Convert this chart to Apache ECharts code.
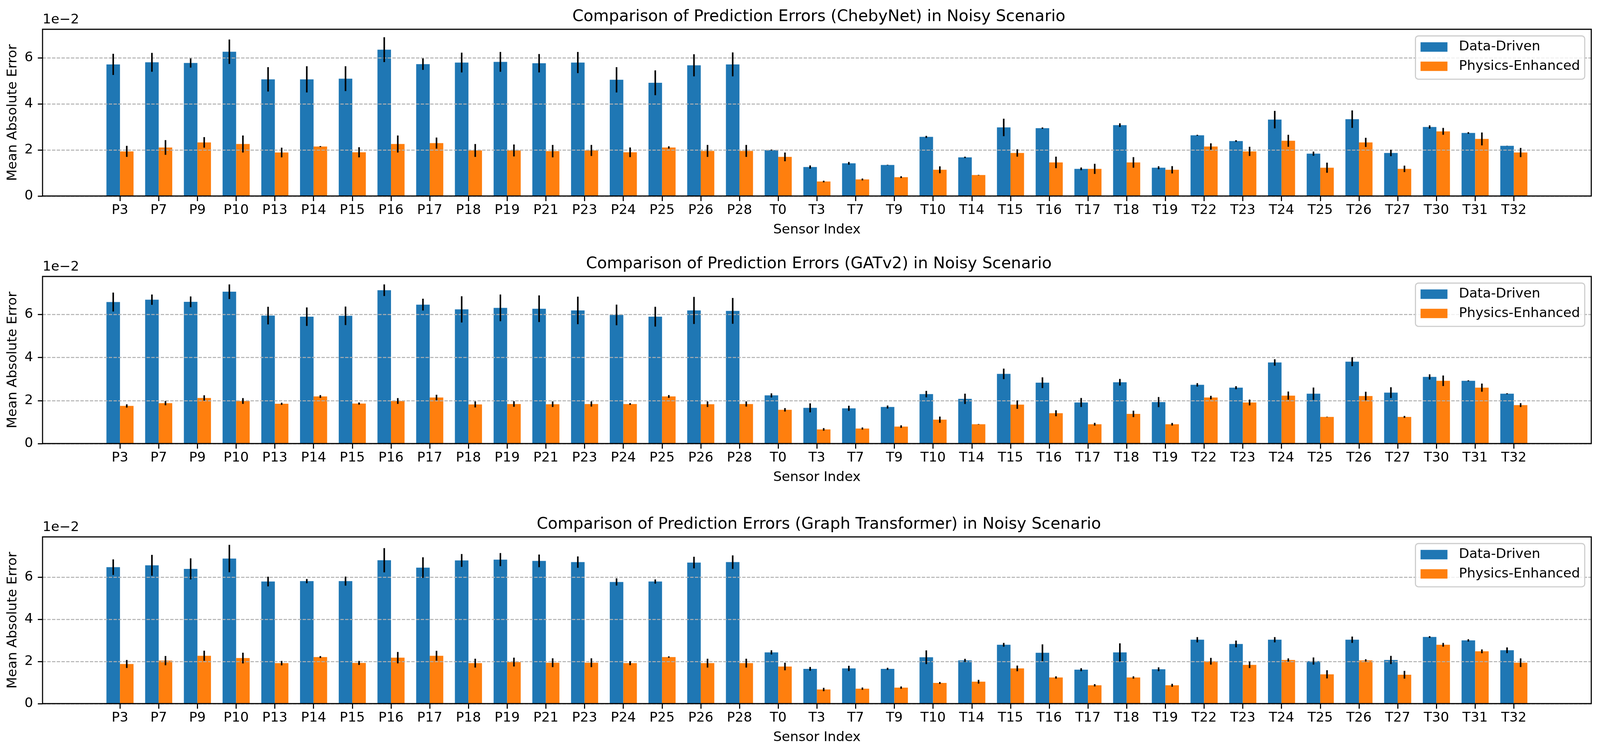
<!DOCTYPE html>
<html>
<head>
<meta charset="utf-8">
<script src="https://cdn.jsdelivr.net/npm/echarts@6/dist/echarts.min.js"></script>
<style>
html,body{margin:0;padding:0;background:#ffffff;overflow:hidden;}
#chart{position:absolute;left:0;top:0;width:100vw;height:100vh;}
</style>
</head>
<body>
<div id="chart"></div>
<script>
// ---------------- DATA (values are Mean Absolute Error in units of 1e-2) ----------------
const sensors = ['P3','P7','P9','P10','P13','P14','P15','P16','P17','P18','P19','P21','P23','P24','P25','P26','P28',
  'T0','T3','T7','T9','T10','T14','T15','T16','T17','T18','T19','T22','T23','T24','T25','T26','T27','T30','T31','T32'];
const seriesNames = ['Data-Driven', 'Physics-Enhanced'];
const modelNames = ['ChebyNet', 'GATv2', 'Graph Transformer'];
const yTicks = [0, 2, 4, 6];
const yOffsetText = '1e\u22122';

// ChebyNet
const chebyDataMean = [5.72,5.81,5.78,6.27,5.07,5.07,5.10,6.36,5.73,5.80,5.83,5.77,5.80,5.05,4.92,5.68,5.72,
  2.00,1.26,1.42,1.35,2.57,1.68,2.98,2.95,1.18,3.08,1.23,2.64,2.39,3.32,1.84,3.34,1.87,3.00,2.74,2.18];
const chebyDataErr = [0.46,0.41,0.20,0.53,0.53,0.57,0.54,0.54,0.25,0.43,0.43,0.40,0.46,0.55,0.54,0.48,0.52,
  0.02,0.07,0.06,0.01,0.045,0.03,0.38,0.03,0.06,0.08,0.065,0.02,0.035,0.38,0.09,0.38,0.14,0.07,0.035,0.005];
const chebyPhysMean = [1.94,2.11,2.33,2.26,1.89,2.15,1.90,2.26,2.30,1.98,1.98,1.95,1.98,1.90,2.11,1.96,1.96,
  1.70,0.63,0.72,0.82,1.14,0.91,1.87,1.46,1.18,1.46,1.14,2.15,1.94,2.40,1.23,2.33,1.18,2.81,2.48,1.89];
const chebyPhysErr = [0.24,0.32,0.23,0.37,0.21,0.02,0.22,0.37,0.24,0.28,0.26,0.27,0.24,0.21,0.05,0.26,0.26,
  0.19,0.035,0.04,0.04,0.15,0.01,0.16,0.25,0.22,0.23,0.16,0.14,0.20,0.26,0.22,0.20,0.14,0.15,0.28,0.20];

// GATv2
const gatDataMean = [6.58,6.69,6.59,7.06,5.95,5.90,5.94,7.13,6.46,6.24,6.31,6.27,6.19,5.98,5.90,6.19,6.17,
  2.24,1.66,1.64,1.70,2.30,2.08,3.24,2.83,1.91,2.85,1.93,2.73,2.60,3.77,2.32,3.81,2.37,3.10,2.92,2.32];
const gatDataErr = [0.44,0.24,0.25,0.34,0.41,0.43,0.43,0.27,0.275,0.61,0.62,0.62,0.64,0.48,0.46,0.63,0.60,
  0.095,0.21,0.12,0.07,0.15,0.24,0.245,0.25,0.21,0.155,0.235,0.08,0.07,0.15,0.285,0.21,0.25,0.12,0.02,0.02];
const gatPhysMean = [1.75,1.88,2.12,1.98,1.85,2.19,1.86,1.98,2.14,1.82,1.84,1.83,1.84,1.84,2.19,1.83,1.84,
  1.57,0.66,0.70,0.79,1.11,0.90,1.81,1.41,0.90,1.38,0.90,2.14,1.91,2.23,1.24,2.21,1.24,2.92,2.60,1.79];
const gatPhysErr = [0.075,0.10,0.125,0.135,0.05,0.065,0.05,0.135,0.13,0.14,0.13,0.13,0.12,0.04,0.065,0.13,0.12,
  0.08,0.06,0.05,0.06,0.145,0.01,0.195,0.14,0.065,0.15,0.06,0.08,0.135,0.19,0.01,0.20,0.045,0.245,0.19,0.09];

// Graph Transformer
const gtDataMean = [6.47,6.56,6.39,6.88,5.79,5.81,5.81,6.80,6.45,6.79,6.83,6.77,6.71,5.77,5.79,6.69,6.71,
  2.43,1.65,1.67,1.65,2.20,2.05,2.79,2.41,1.61,2.43,1.63,3.03,2.83,3.03,2.02,3.03,2.07,3.16,3.00,2.53];
const gtDataErr = [0.37,0.495,0.50,0.65,0.23,0.10,0.215,0.575,0.49,0.305,0.31,0.30,0.27,0.17,0.10,0.275,0.32,
  0.10,0.09,0.125,0.05,0.325,0.075,0.09,0.40,0.07,0.43,0.09,0.125,0.16,0.125,0.17,0.15,0.195,0.04,0.055,0.135];
const gtPhysMean = [1.88,2.04,2.27,2.16,1.92,2.21,1.93,2.18,2.27,1.92,1.97,1.94,1.94,1.92,2.21,1.92,1.92,
  1.76,0.67,0.71,0.76,0.98,1.04,1.67,1.24,0.87,1.24,0.87,2.01,1.84,2.07,1.39,2.05,1.37,2.79,2.48,1.94];
const gtPhysErr = [0.19,0.22,0.24,0.255,0.105,0.045,0.095,0.27,0.235,0.21,0.21,0.21,0.21,0.095,0.03,0.21,0.21,
  0.18,0.08,0.055,0.055,0.045,0.09,0.135,0.055,0.055,0.055,0.07,0.16,0.155,0.075,0.195,0.055,0.185,0.09,0.09,0.205];

// ---------------- LAYOUT / STYLE (designed for 4400 x 1931, scaled to the viewport) ----------------
const el = document.getElementById('chart');
const VW = el.clientWidth || window.innerWidth || 4400;
const VH = el.clientHeight || window.innerHeight || 1931;
const sx = VW / 4400, sy = VH / 1931, s = Math.min(sx, sy);
const X = v => v * sx, Y = v => v * sy, S = v => v * s;

const FONT = '"DejaVu Sans", "Liberation Sans", sans-serif';
const COLORS = ['#1f77b4', '#ff7f0e'];
const BAR_W = 0.35;
const plotLeft = 117, plotRightGap = 24;
const plotTops = [75, 708, 1375];
const plotHeights = [427, 428, 427];
const centerX = plotLeft + (4400 - plotLeft - plotRightGap) / 2;

const panels = [
  {model: modelNames[0], mean: [chebyDataMean, chebyPhysMean], err: [chebyDataErr, chebyPhysErr]},
  {model: modelNames[1], mean: [gatDataMean, gatPhysMean], err: [gatDataErr, gatPhysErr]},
  {model: modelNames[2], mean: [gtDataMean, gtPhysMean], err: [gtDataErr, gtPhysErr]}
];

const sensorIdx = sensors.map((n, i) => i);

function barRender(side) {
  return function (params, api) {
    const x = api.value(0), y = api.value(1);
    const a = api.coord([x + (side < 0 ? -BAR_W : 0), 0]);
    const b = api.coord([x + (side < 0 ? 0 : BAR_W), y]);
    return {
      type: 'rect',
      shape: {x: a[0], y: b[1], width: b[0] - a[0], height: a[1] - b[1]},
      style: {fill: api.visual('color')}
    };
  };
}
function errRender(side) {
  return function (params, api) {
    const x = api.value(0) + side * BAR_W / 2, y = api.value(1), e = api.value(2);
    const t = api.coord([x, y + e]), b = api.coord([x, y - e]);
    return {
      type: 'line',
      shape: {x1: t[0], y1: t[1], x2: b[0], y2: b[1]},
      style: {stroke: '#000000', lineWidth: S(4.3), lineCap: 'butt'}
    };
  };
}

const grids = [], xAxes = [], yAxes = [], series = [], legends = [], titles = [], graphics = [];

panels.forEach((p, i) => {
  const yMax = Math.max(
    ...p.mean[0].map((m, k) => m + p.err[0][k]),
    ...p.mean[1].map((m, k) => m + p.err[1][k])
  ) * 1.05;

  grids.push({
    left: X(plotLeft), right: X(plotRightGap), top: Y(plotTops[i]), height: Y(plotHeights[i]),
    show: true, borderColor: '#000000', borderWidth: S(3), backgroundColor: 'transparent',
    z: 5, containLabel: false, outerBoundsMode: 'none'
  });

  xAxes.push({
    gridIndex: i, type: 'value', min: -2, max: 38, z: 3,
    name: 'Sensor Index', nameLocation: 'middle', nameGap: Y(70),
    nameTextStyle: {fontSize: S(37), color: '#000', fontFamily: FONT},
    axisLine: {show: false, onZero: false},
    splitLine: {show: false},
    axisTick: {show: true, length: Y(13), lineStyle: {color: '#000', width: S(3)}, customValues: sensorIdx},
    axisLabel: {show: true, customValues: sensorIdx, formatter: v => sensors[v] !== undefined ? sensors[v] : '',
      fontSize: S(37), color: '#000', margin: Y(20), fontFamily: FONT}
  });

  yAxes.push({
    gridIndex: i, type: 'value', min: 0, max: yMax, interval: 2, z: 3,
    name: 'Mean Absolute Error', nameLocation: 'middle', nameGap: X(63), nameRotate: 90,
    nameTextStyle: {fontSize: S(37), color: '#000', fontFamily: FONT},
    axisLine: {show: false, onZero: false},
    axisTick: {show: true, length: X(13), lineStyle: {color: '#000', width: S(3)}, customValues: yTicks},
    axisLabel: {show: true, customValues: yTicks, fontSize: S(37), color: '#000', margin: X(26), fontFamily: FONT},
    splitLine: {show: true, lineStyle: {color: '#b0b0b0', width: S(2.7), type: [S(9.3), S(3.7)]}}
  });

  [0, 1].forEach(k => {
    const side = k === 0 ? -1 : 1;
    const data = sensors.map((name, j) => [j, p.mean[k][j], p.err[k][j]]);
    series.push({
      type: 'custom', name: seriesNames[k], xAxisIndex: i, yAxisIndex: i,
      data: data, encode: {x: 0, y: 1}, renderItem: barRender(side),
      itemStyle: {color: COLORS[k]}, z: 2, silent: true, clip: false
    });
    series.push({
      type: 'custom', name: seriesNames[k] + ' error', xAxisIndex: i, yAxisIndex: i,
      data: data, encode: {x: 0, y: 1}, renderItem: errRender(side),
      itemStyle: {color: '#000'}, z: 4, silent: true, clip: false
    });
  });

  legends.push({
    data: seriesNames.map((n, k) => ({name: n, itemStyle: {color: COLORS[k]}})),
    orient: 'vertical', align: 'left', right: X(42), top: Y(plotTops[i] + 17),
    icon: 'rect', itemWidth: S(74), itemHeight: S(26), itemGap: S(16),
    padding: [S(12), S(13), S(17), S(14)],
    backgroundColor: 'rgba(255,255,255,0.8)', borderColor: '#cccccc', borderWidth: S(3), borderRadius: S(8),
    textStyle: {fontSize: S(37), color: '#000', fontFamily: FONT, lineHeight: S(37), padding: [0, 0, 0, S(26)]},
    selectedMode: false, z: 6
  });

  titles.push({
    text: 'Comparison of Prediction Errors (' + p.model + ') in Noisy Scenario',
    left: X(centerX), top: Y(plotTops[i] - 57), textAlign: 'center',
    textStyle: {fontSize: S(44), fontWeight: 'normal', color: '#000', fontFamily: FONT}
  });

  graphics.push({
    type: 'text', left: X(plotLeft), top: Y(plotTops[i] - 41),
    style: {text: yOffsetText, fontSize: S(37), fontFamily: FONT, fill: '#000'}
  });
});

const chart = echarts.init(el, null, {renderer: 'canvas'});
chart.setOption({
  animation: false,
  backgroundColor: '#ffffff',
  title: titles,
  legend: legends,
  grid: grids,
  xAxis: xAxes,
  yAxis: yAxes,
  series: series,
  graphic: graphics
});
</script>
</body>
</html>
